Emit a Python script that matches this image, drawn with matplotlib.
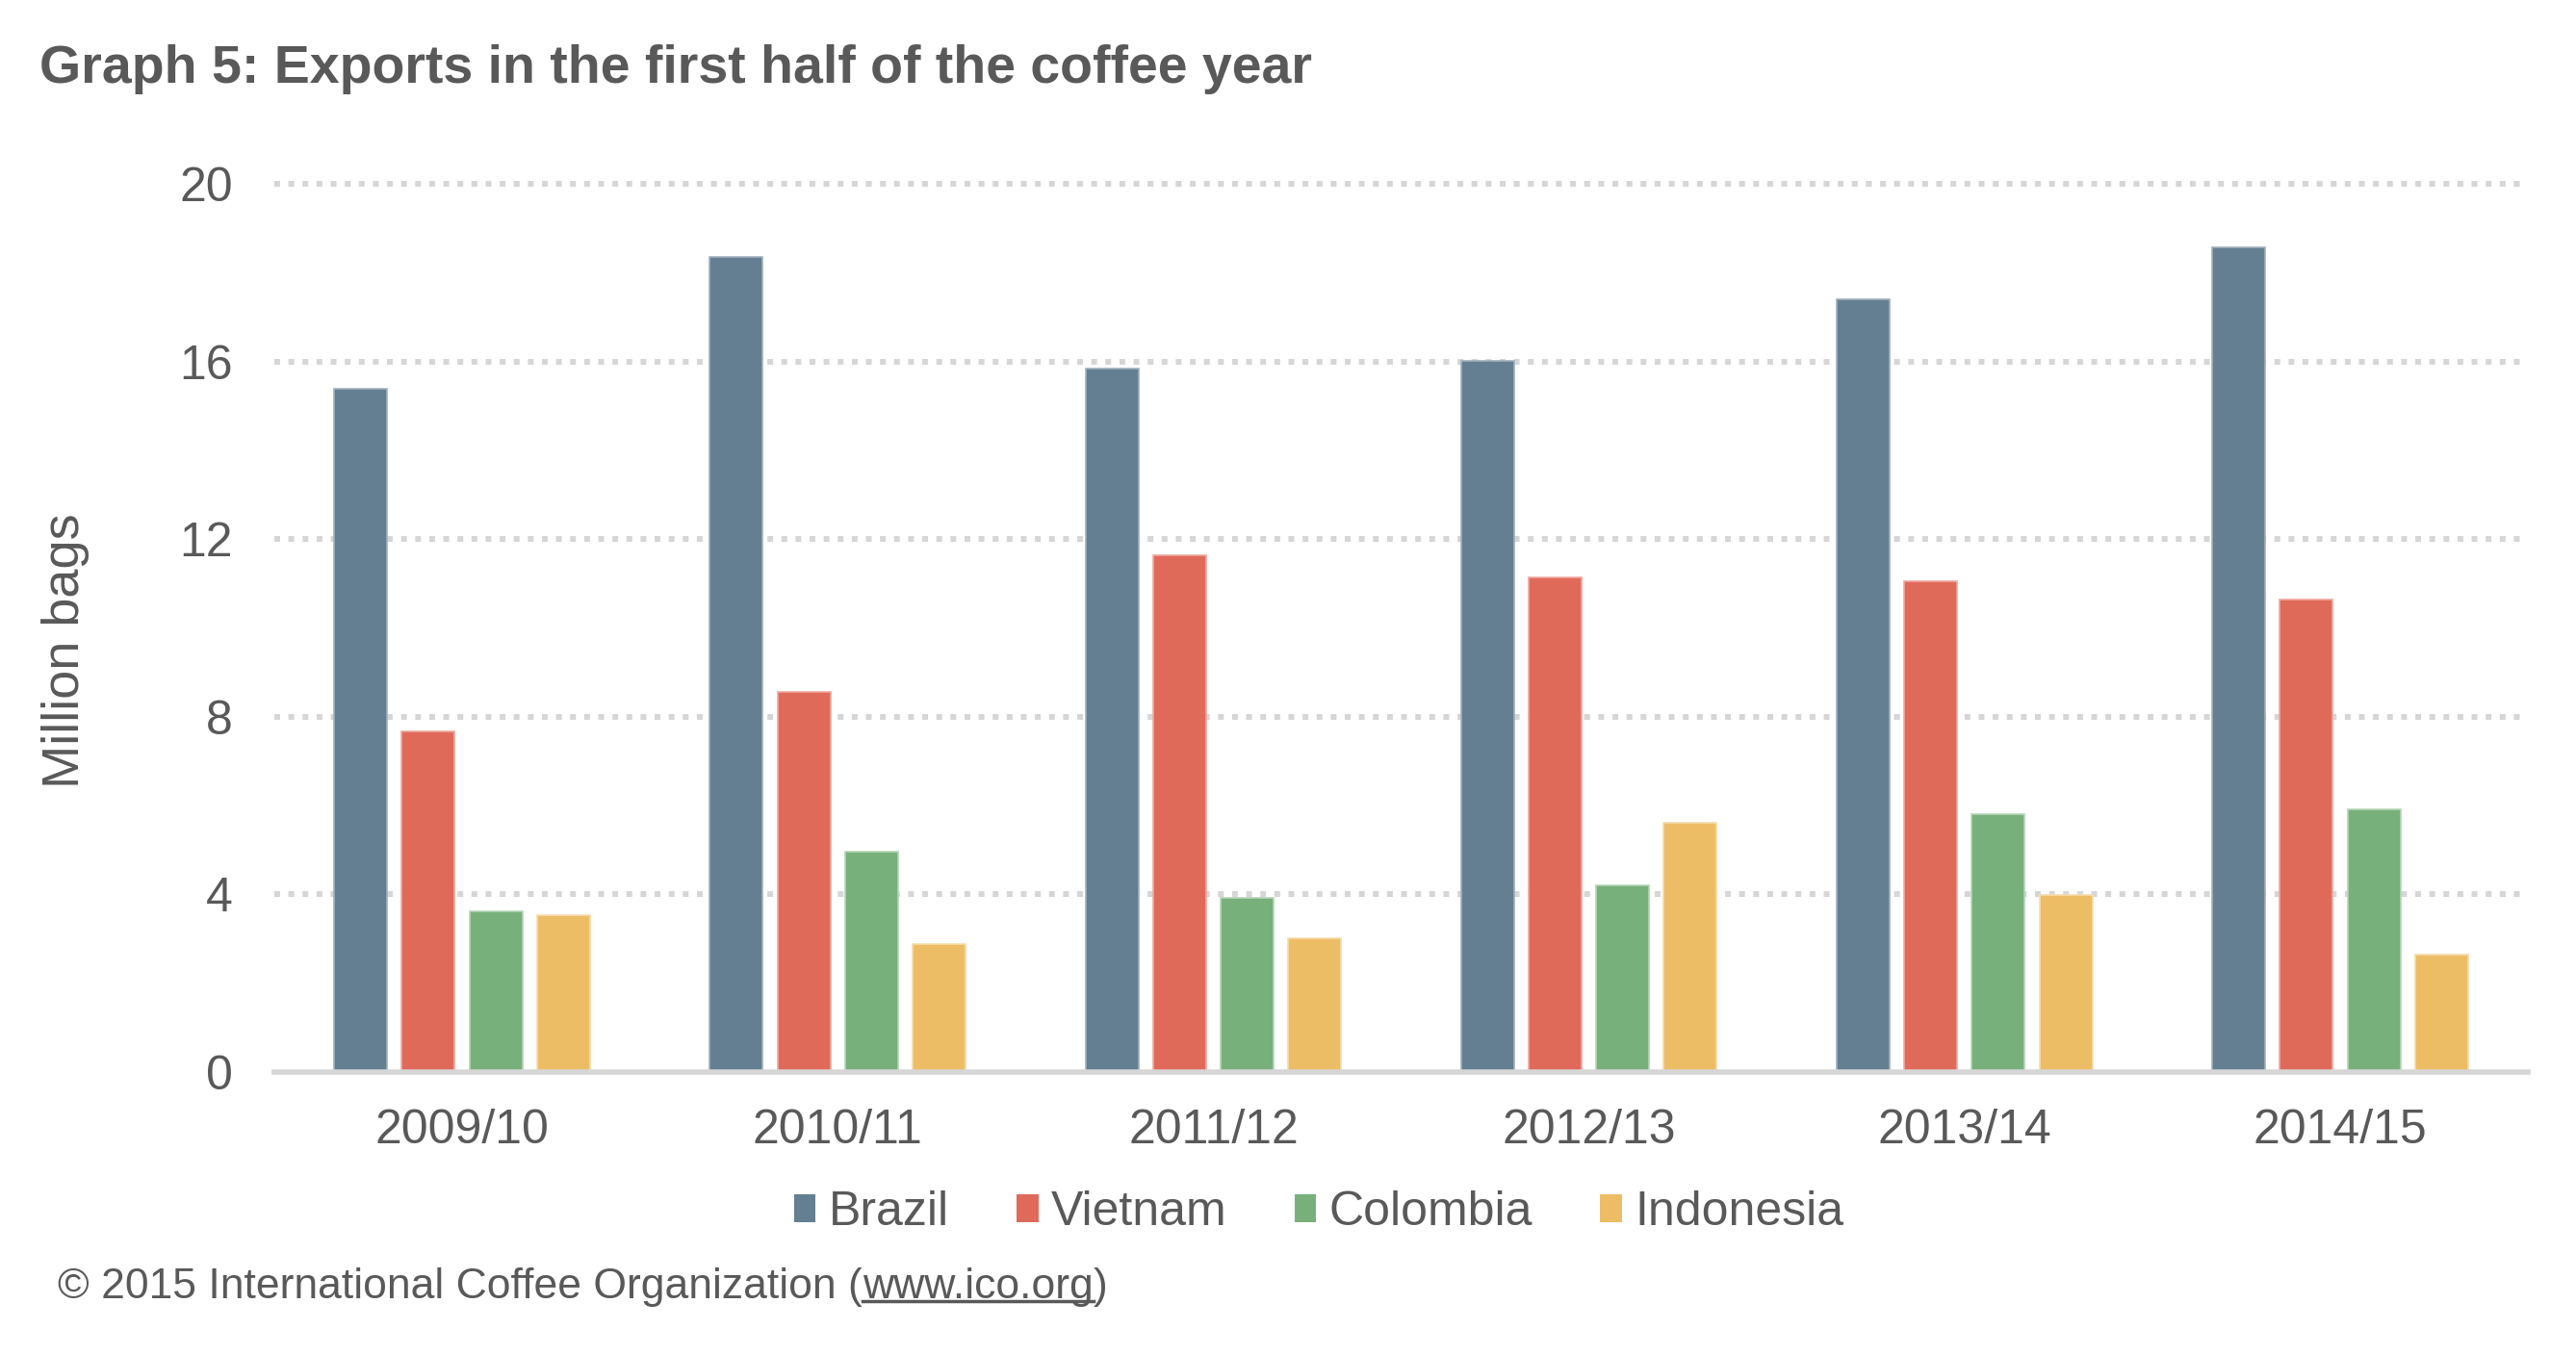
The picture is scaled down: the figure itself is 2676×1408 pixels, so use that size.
import matplotlib
matplotlib.use("Agg")
import matplotlib.pyplot as plt
from matplotlib.patches import Patch
from matplotlib.lines import Line2D
import numpy as np

plt.rcParams['font.family'] = ['Liberation Sans', 'DejaVu Sans']

categories = ["2009/10", "2010/11", "2011/12", "2012/13", "2013/14", "2014/15"]
series_names = ["Brazil", "Vietnam", "Colombia", "Indonesia"]
brazil = [15.39, 18.36, 15.85, 16.02, 17.41, 18.56]
vietnam = [7.66, 8.55, 11.63, 11.14, 11.05, 10.64]
colombia = [3.62, 4.96, 3.93, 4.20, 5.80, 5.92]
indonesia = [3.54, 2.89, 3.02, 5.62, 3.99, 2.64]
yticks = [0, 4, 8, 12, 16, 20]

colors = ["#647f92", "#e06a5a", "#78b07c", "#edbd66"]
edges = ["#9fb0bd", "#f0a89e", "#b4d6b6", "#f6dcaa"]
text_color = "#595959"
grid_color = "#d6d6d6"

W, H = 2676, 1408
fig = plt.figure(figsize=(W / 100, H / 100), dpi=100)
ax = fig.add_axes([285 / W, 1 - 1114 / H, (2626 - 285) / W, (1114 - 191) / H])

x = np.arange(len(categories))
offsets = [-0.27, -0.09, 0.09, 0.27]
width = 0.141
for vals, off, c, e, name in zip([brazil, vietnam, colombia, indonesia], offsets, colors, edges, series_names):
    ax.bar(x + off, vals, width=width, color=c, edgecolor=e, linewidth=1.2, label=name, zorder=3)

ax.set_xlim(-0.5, len(categories) - 0.5)
ax.set_ylim(0, 20)
ax.set_yticks(yticks)
ax.set_yticklabels([str(t) for t in yticks])
ax.set_xticks(x)
ax.set_xticklabels(categories)

for t in yticks[1:]:
    ax.axhline(t, color=grid_color, linewidth=4.3, linestyle=(0, (1, 1.45)), zorder=1, clip_on=False)
ax.axhline(0, color=grid_color, linewidth=4, zorder=4, clip_on=False)

for s in ax.spines.values():
    s.set_visible(False)
ax.tick_params(axis='both', length=0, labelsize=36, labelcolor=text_color)
ax.tick_params(axis='y', pad=31)
ax.tick_params(axis='x', pad=27)

fig.text(68 / W, 1 - 676 / H, "Million bags", rotation=90, ha='center', va='center',
         fontsize=39, color=text_color)

fig.text(41 / W, 1 - 72 / H, "Graph 5: Exports in the first half of the coffee year",
         ha='left', va='center', fontsize=40, fontweight='bold', color=text_color)

handles = [Patch(facecolor=c, edgecolor='none') for c in colors]
fig.legend(handles, series_names, loc='center', bbox_to_anchor=(0.512, 1 - 1260 / H), ncol=4,
           frameon=False, fontsize=36, handlelength=0.45, handleheight=0.5, handletextpad=0.27,
           columnspacing=1.4, labelcolor=text_color, borderpad=0)

# footer with underlined link
fs = 32
fy = 1 - 1337 / H
t1 = fig.text(60 / W, fy, "\u00a9 2015 International Coffee Organization (", ha='left', va='center',
              fontsize=fs, color=text_color)
fig.canvas.draw()
r = fig.canvas.get_renderer()
bb1 = t1.get_window_extent(r)
t2 = fig.text(bb1.x1 / W, fy, "www.ico.org", ha='left', va='center', fontsize=fs, color=text_color)
bb2 = t2.get_window_extent(r)
t3 = fig.text(bb2.x1 / W, fy, ")", ha='left', va='center', fontsize=fs, color=text_color)
uy = (bb2.y0 + 6) / H
fig.add_artist(Line2D([bb2.x0 / W, bb2.x1 / W], [uy, uy], color=text_color, linewidth=2.5,
                      transform=fig.transFigure))

fig.savefig("out.png", dpi=100)
